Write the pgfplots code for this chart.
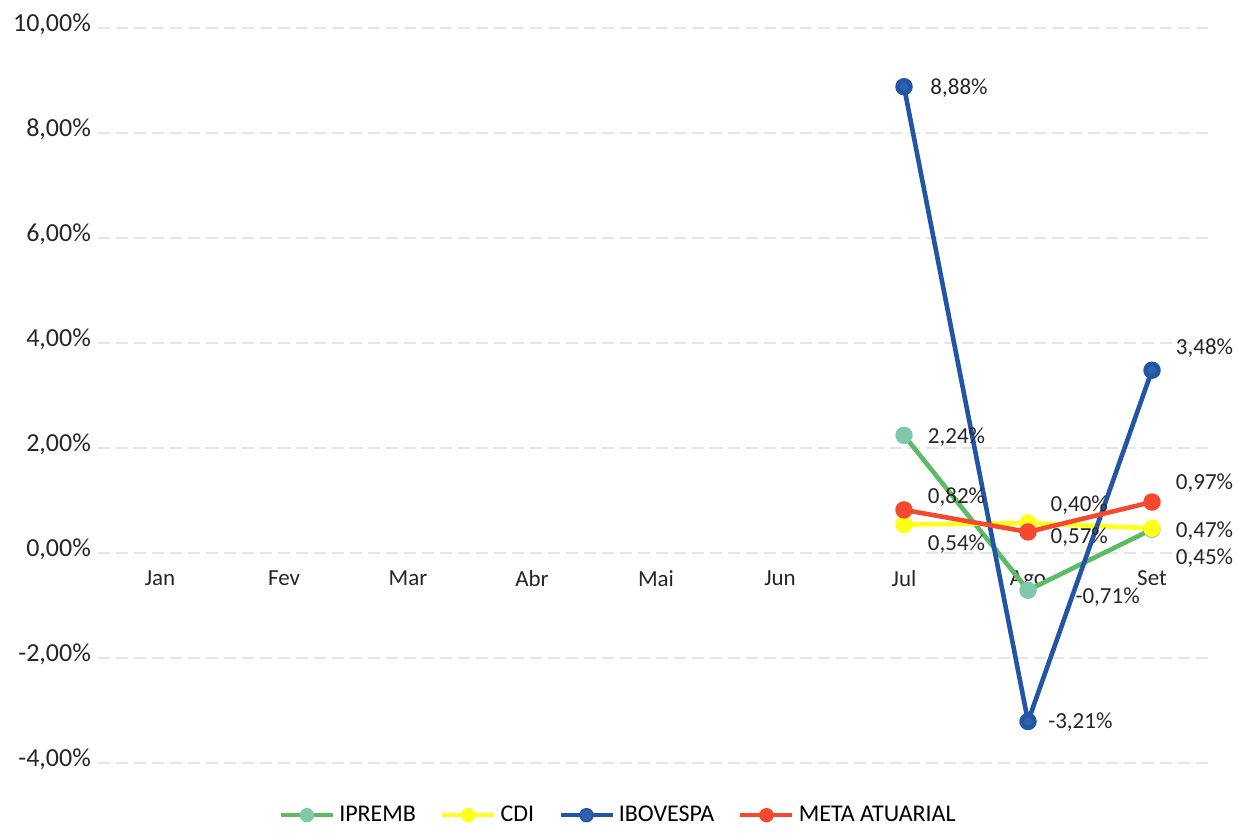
\documentclass[border=0pt]{standalone}
\usepackage{fontspec}
\setmainfont{Carlito}
\usepackage{pgfplots}
\pgfplotsset{compat=1.18}
\definecolor{cgreen}{HTML}{5DBB63}
\definecolor{cgreenm}{HTML}{7FC8A9}
\definecolor{cyellow}{HTML}{FFFF1A}
\definecolor{cblue}{HTML}{2255A4}
\definecolor{cbluem}{HTML}{2F63AE}
\definecolor{cred}{HTML}{F4492E}
\definecolor{ctext}{HTML}{262626}
\begin{document}
\begin{tikzpicture}
\begin{axis}[
  scale only axis,
  width=558pt, height=367.5pt,
  xmin=-0.5, xmax=8.5, ymin=-4, ymax=10,
  axis x line=middle, axis y line=left,
  axis line style={draw=none},
  major tick length=0pt,
  xtick={0,1,2,3,4,5,6,7,8},
  xticklabels={Jan,Fev,Mar,Abr,Mai,Jun,Jul,Ago,Set},
  xticklabel style={font=\fontsize{11.5}{13}\selectfont, text=ctext, yshift=-5.5pt},
  ytick={-4,-2,0,2,4,6,8,10},
  yticklabels={{-4,00\%},{-2,00\%},{0,00\%},{2,00\%},{4,00\%},{6,00\%},{8,00\%},{10,00\%}},
  yticklabel style={font=\fontsize{13}{15}\selectfont, text=ctext, xshift=0pt, yshift=2pt},
  /pgf/number format/assume math mode=true,
  ymajorgrids,
  major grid style={gray!20, line width=0.6pt, dash pattern=on 6pt off 3pt},
  clip=false,
  legend columns=4,
  legend style={draw=none, at={(0.467,-0.047)}, anchor=north, font=\fontsize{12}{14}\selectfont,
    /tikz/every even column/.append style={column sep=10pt}},
  legend image code/.code={
    \draw[#1, mark=none] (0pt,0pt) -- (26pt,0pt);
    \draw[#1, line width=0.8pt] plot coordinates {(13pt,0pt)};
  },
  every axis plot/.append style={line width=2.3pt},
]
\addplot[cgreen, mark=*, mark size=3.2pt, mark options={fill=cgreenm, draw=cgreenm}] coordinates {(6,2.24) (7,-0.71) (8,0.45)};
\addlegendentry{IPREMB}
\addplot[cyellow, mark=*, mark size=3.2pt, mark options={fill=cyellow, draw=cyellow}] coordinates {(6,0.54) (7,0.57) (8,0.47)};
\addlegendentry{CDI}
\addplot[cblue, mark=*, mark size=3.2pt, mark options={fill=cbluem, draw=cblue}] coordinates {(6,8.88) (7,-3.21) (8,3.48)};
\addlegendentry{IBOVESPA}
\addplot[cred, mark=*, mark size=3.2pt, mark options={fill=cred, draw=cred}] coordinates {(6,0.82) (7,0.40) (8,0.97)};
\addlegendentry{META ATUARIAL}
\begin{scope}[every node/.style={anchor=west, font=\fontsize{11.5}{13}\selectfont, text=ctext, inner sep=0pt}]
\node at (axis cs:6.21,8.86) {8,88\%};
\node at (axis cs:6.19,2.21) {2,24\%};
\node at (axis cs:6.19,1.07) {0,82\%};
\node at (axis cs:6.19,0.17) {0,54\%};
\node at (axis cs:7.18,0.91) {0,40\%};
\node at (axis cs:7.18,0.30) {0,57\%};
\node at (axis cs:7.38,-0.84) {-0,71\%};
\node at (axis cs:7.16,-3.22) {-3,21\%};
\node at (axis cs:8.19,3.90) {3,48\%};
\node at (axis cs:8.19,1.33) {0,97\%};
\node at (axis cs:8.19,0.42) {0,47\%};
\node at (axis cs:8.19,-0.10) {0,45\%};
\end{scope}
\path (rel axis cs:-0.0878,1.038) (rel axis cs:1.0206,-0.0816);
\end{axis}
\end{tikzpicture}
\end{document}
